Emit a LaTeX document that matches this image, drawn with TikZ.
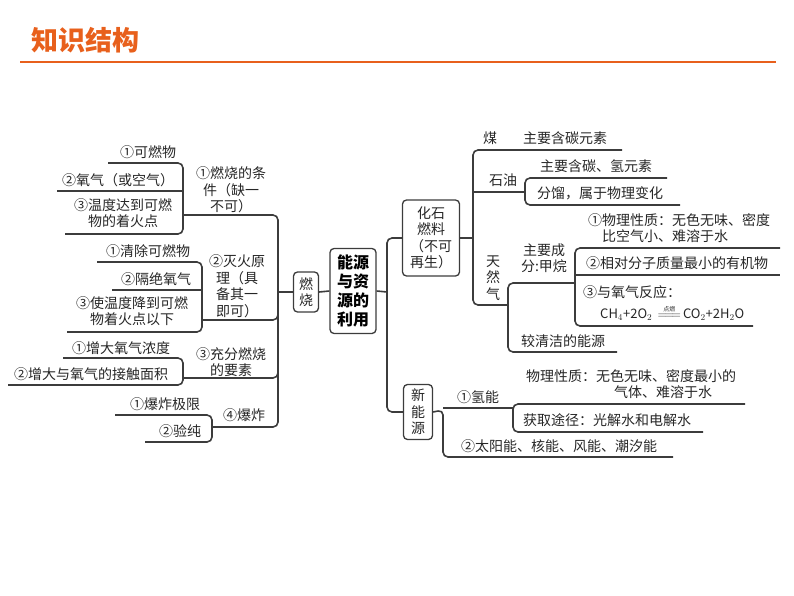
\documentclass[tikz,border=0pt]{standalone}
\usepackage{fontspec}
\setmainfont{Noto Sans CJK SC}
\definecolor{orangetitle}{RGB}{232,96,28}
\definecolor{linegray}{RGB}{60,60,60}
\begin{document}
\begin{tikzpicture}[x=1pt, y=-1pt,
                    txt/.style={inner sep=0pt, font=\fontsize{14}{16.5}\selectfont, align=center, text=black!85},
                    br/.style={draw=linegray, line width=1.6pt, rounded corners=5pt},
                    box/.style={draw=linegray, line width=1.3pt, rounded corners=4pt, fill=white}]

    \useasboundingbox (0,0) rectangle (794,596);

    % Title
    \node[anchor=west, text=orangetitle, font=\fontsize{27}{30}\selectfont\bfseries] (title) at (28,40) {知识结构};
    \draw[orangetitle, line width=2.5pt] (20,62) -- (776,62);

    % Centre boxes
    \node[box, minimum width=46pt, minimum height=85pt, font=\fontsize{16}{19}\selectfont\bfseries, align=center] (root) at (353,291) {能源\\与资\\源的\\利用};
    \node[box, minimum width=25pt, minimum height=40pt, txt] (burn) at (306,292) {燃\\烧};
    \draw[br] (burn.east) -- (root.west);
    \node[box, minimum width=57pt, minimum height=76pt, txt] (fossil) at (431,238) {化石\\燃料\\（不可\\再生）};
    \node[box, minimum width=29pt, minimum height=55pt, txt] (newen) at (418,412) {新\\能\\源};

    % Left side: burning
    \draw[br] (burn.west) -- (278,292);
    \draw[br] (278,292) |- (183,215);
    \draw[br] (278,292) |- (202,320);
    \draw[br] (278,292) |- (183,378);
    \draw[br] (278,292) |- (212,427);
    \draw[br] (108,163) -- (183,163) -- (183,234) -- (65,234);
    \draw[br] (57,191) -- (183,191);
    \draw[br] (97,262) -- (202,262) -- (202,332) -- (67,332);
    \draw[br] (112,290) -- (202,290);
    \draw[br] (63,358) -- (183,358) -- (183,385) -- (8,385);
    \draw[br] (115,415) -- (212,415) -- (212,442) -- (145,442);

    \node[txt] (cond) at (231,190) {①燃烧的条\\件（缺一\\不可）};
    \node[txt] (c1) at (148,152) {①可燃物};
    \node[txt] (c2) at (118,180) {②氧气（或空气）};
    \node[txt] (c3) at (123,213) {③温度达到可燃\\物的着火点};
    \node[txt] (ext) at (237,286) {②灭火原\\理（具\\备其一\\即可）};
    \node[txt] (e1) at (148,251) {①清除可燃物};
    \node[txt] (e2) at (156,279) {②隔绝氧气};
    \node[txt] (e3) at (132,311) {③使温度降到可燃\\物着火点以下};
    \node[txt] (full) at (231,362) {③充分燃烧\\的要素};
    \node[txt] (f1) at (121,348) {①增大氧气浓度};
    \node[txt] (f2) at (91,374) {②增大与氧气的接触面积};
    \node[txt] (expl) at (244,415) {④爆炸};
    \node[txt] (x1) at (165,404) {①爆炸极限};
    \node[txt] (x2) at (180,431) {②验纯};

    % Right side
    \draw[br] (root.east) -- (387,292);
    \draw[br] (fossil.west) -| (387,292);
    \draw[br] (newen.west) -| (387,292);
    \draw[br] (fossil.east) -- (473,238);
    \draw[br] (622,150) -- (473,150) -- (473,305) -- (508,305);
    \draw[br] (473,192) -- (525,192);
    \draw[br] (667,178) -- (525,178) -- (525,205) -- (680,205);
    \draw[br] (575,283) -- (508,283) -- (508,352) -- (617,352);
    \draw[br] (780,248) -- (575,248) -- (575,326) -- (753,326);
    \draw[br] (575,275) -- (780,275);

    \node[txt] (coal) at (490,138) {煤};
    \node[txt] (coal1) at (565,138) {主要含碳元素};
    \node[txt] (oil) at (503,180) {石油};
    \node[txt] (oil1) at (596,166) {主要含碳、氢元素};
    \node[txt] (oil2) at (600,193) {分馏，属于物理变化};
    \node[txt] (gas) at (493,278) {天\\然\\气};
    \node[txt] (gasm) at (544,258) {主要成\\分:甲烷};
    \node[txt, align=left] (g1) at (679,228) {①物理性质：无色无味、密度\\\hspace*{1em}比空气小、难溶于水};
    \node[txt] (g2) at (677,263) {②相对分子质量最小的有机物};
    \node[txt, anchor=west] (g3) at (583,292) {③与氧气反应：};
    \node[txt, anchor=west, font=\fontsize{13}{15}\selectfont] (g3b) at (600,313)
        {CH$_4$+2O$_2\,\stackrel{\mbox{\fontsize{6}{6}\selectfont 点燃}}{=\joinrel=\joinrel=}\,$CO$_2$+2H$_2$O};
    \node[txt] (gas2) at (563,341) {较清洁的能源};

    \draw[br] (newen.east) -- (443,410) -- (443,457) -- (673,457);
    \draw[br] (443,408) -- (513,408);
    \draw[br] (745,404) -- (513,404) -- (513,432) -- (703,432);
    \node[txt] (h2) at (478,397) {①氢能};
    \node[txt, align=left] (h2a) at (631,384) {物理性质：无色无味、密度最小的\\\hspace*{6.3em}气体、难溶于水};
    \node[txt] (h2b) at (607,420) {获取途径：光解水和电解水};
    \node[txt] (other) at (559,446) {②太阳能、核能、风能、潮汐能};

\end{tikzpicture}
\end{document}
